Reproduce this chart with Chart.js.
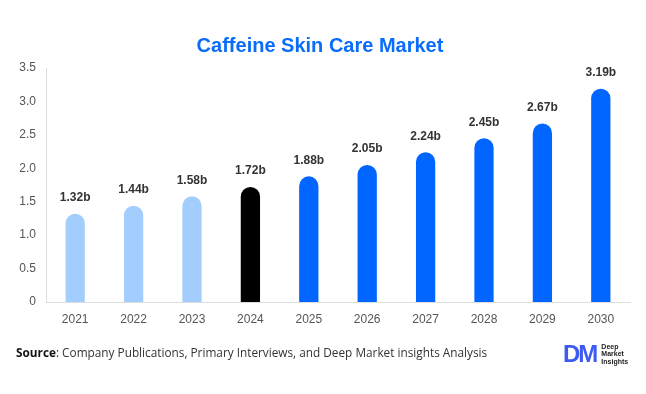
<!DOCTYPE html>
<html>
<head>
<meta charset="utf-8">
<script src="https://cdn.jsdelivr.net/npm/chart.js@4.4.1/dist/chart.umd.min.js"></script>
<style>
  html, body { margin: 0; padding: 0; background: #fff; }
  #wrap { position: relative; width: 646px; height: 394px; overflow: hidden; }
  #c { position: absolute; left: 0; top: 0; }
  #source { position: absolute; left: 16px; top: 344px; font-family: "Open Sans", "Lato", sans-serif; font-size: 11.8px; color: #333; white-space: nowrap; }
  #source b { color: #111; font-weight: 700; }
  #logo { position: absolute; left: 563px; top: 342px; height: 24px; display: flex; align-items: center; }
  #logo .dm { font-family: "Liberation Sans", Arial, sans-serif; font-weight: 700; font-size: 24px; color: #3d5af1; letter-spacing: -2px; line-height: 24px; }
  #logo .txt { margin-left: 5px; font-family: "Liberation Sans", Arial, sans-serif; font-weight: 700; font-size: 7px; line-height: 7.5px; color: #222; }
</style>
</head>
<body>
<div id="wrap">
  <canvas id="c" width="646" height="394"></canvas>
  <div id="source"><b>Source</b>: Company Publications, Primary Interviews, and Deep Market insights Analysis</div>
  <div id="logo"><span class="dm">DM</span><span class="txt">Deep<br>Market<br>Insights</span></div>
</div>
<script>
const categories = ["2021", "2022", "2023", "2024", "2025", "2026", "2027", "2028", "2029", "2030"];
const values = [1.32, 1.44, 1.58, 1.72, 1.88, 2.05, 2.24, 2.45, 2.67, 3.19];
const valueLabels = ["1.32b", "1.44b", "1.58b", "1.72b", "1.88b", "2.05b", "2.24b", "2.45b", "2.67b", "3.19b"];
const yTicks = [0, 0.5, 1.0, 1.5, 2.0, 2.5, 3.0, 3.5];
const barColors = ["#a3cdfd", "#a3cdfd", "#a3cdfd", "#000000", "#0066ff", "#0066ff", "#0066ff", "#0066ff", "#0066ff", "#0066ff"];

const labelPlugin = {
  id: "barLabels",
  afterDatasetsDraw(chart) {
    const ctx = chart.ctx;
    const meta = chart.getDatasetMeta(0);
    ctx.save();
    ctx.font = "bold 12px 'Liberation Sans', Arial, sans-serif";
    ctx.fillStyle = "#333333";
    ctx.textAlign = "center";
    ctx.textBaseline = "middle";
    meta.data.forEach((bar, i) => {
      ctx.fillText(valueLabels[i], bar.x, bar.y - 16);
    });
    ctx.restore();
  }
};

new Chart(document.getElementById("c"), {
  type: "bar",
  data: {
    labels: categories,
    datasets: [{
      data: values,
      backgroundColor: barColors,
      borderWidth: 0,
      borderRadius: { topLeft: 10, topRight: 10, bottomLeft: 0, bottomRight: 0 },
      borderSkipped: false,
      categoryPercentage: 1.0,
      barPercentage: 0.33
    }]
  },
  options: {
    responsive: false,
    animation: false,
    layout: { padding: { left: 10, right: 16, top: 0, bottom: 62 } },
    plugins: {
      legend: { display: false },
      tooltip: { enabled: false },
      title: {
        display: true,
        text: "Caffeine Skin Care Market",
        color: "#0a6cf8",
        font: { family: "'Liberation Sans', Arial, sans-serif", size: 20, weight: "bold" },
        padding: { top: 34, bottom: 10 }
      }
    },
    scales: {
      x: {
        grid: { display: false, drawTicks: false },
        border: { display: true, color: "#dddddd", width: 1 },
        ticks: { color: "#555555", padding: 10, font: { family: "'Liberation Sans', Arial, sans-serif", size: 12 } },
        afterFit(scale) { scale.height = 30; }
      },
      y: {
        min: 0,
        max: 3.5,
        afterBuildTicks(scale) { scale.ticks = yTicks.map(v => ({ value: v })); },
        grid: { display: false, drawTicks: false },
        border: { display: true, color: "#dddddd", width: 1 },
        ticks: {
          color: "#555555",
          padding: 10,
          font: { family: "'Liberation Sans', Arial, sans-serif", size: 12 },
          callback(v) { return v === 0 ? "0" : Number(v).toFixed(1); }
        },
        afterFit(scale) { scale.width = 36; }
      }
    }
  },
  plugins: [labelPlugin]
});
</script>
</body>
</html>
